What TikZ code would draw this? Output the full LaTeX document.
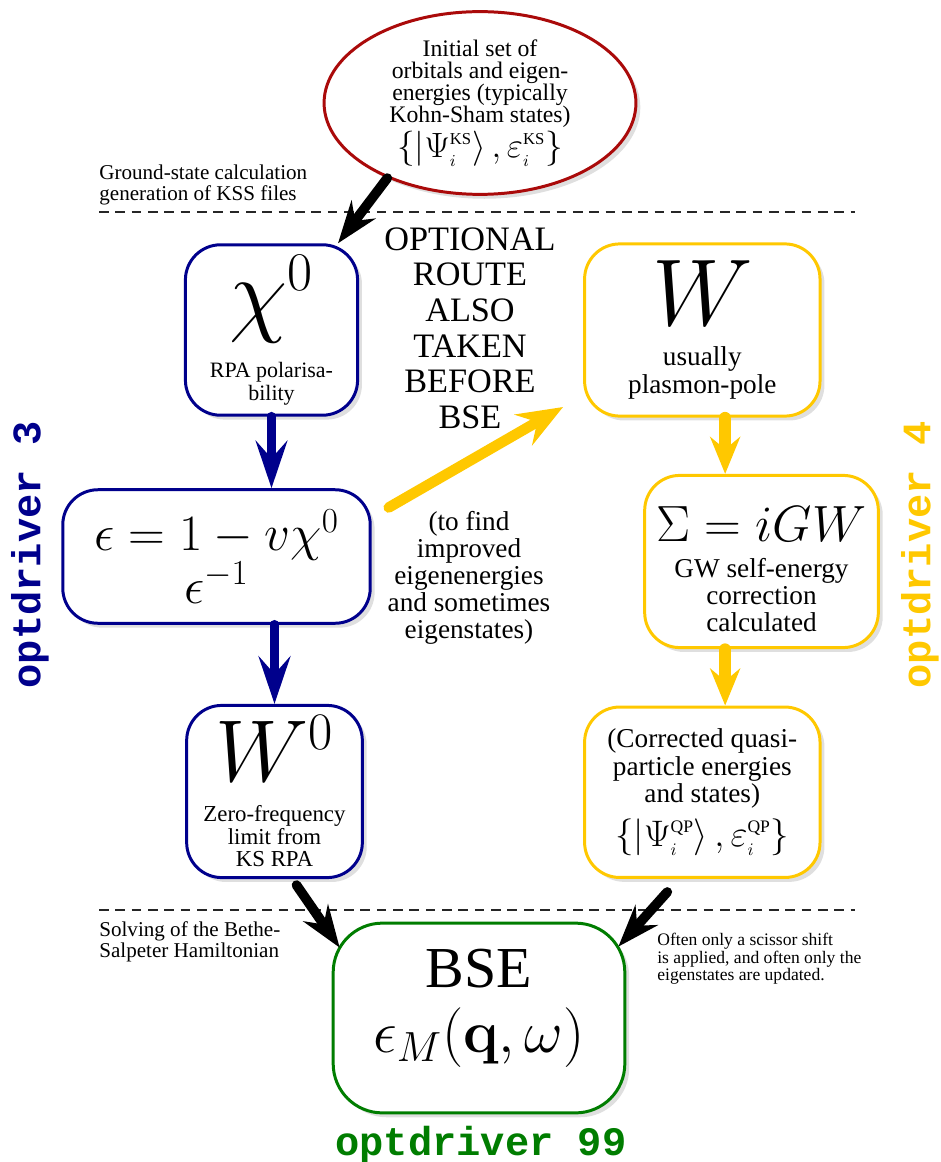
\RequirePackage{fix-cm}
\documentclass[tikz,border=0pt]{standalone}
\usepackage{amsmath}
\usepackage[no-math]{fontspec}
\setmainfont{Liberation Serif}
\newfontfamily\drvfont{Liberation Mono}
\usepackage{xcolor}
\usepackage{tikz}
\usetikzlibrary{arrows.meta,positioning,shapes.geometric,shadows}

\definecolor{rpablue}{RGB}{0,0,140}
\definecolor{gwyellow}{RGB}{255,200,0}
\definecolor{ksred}{RGB}{170,10,10}
\definecolor{bsegreen}{RGB}{0,125,0}

\DeclareMathSizes{54}{54}{31}{22}
\DeclareMathSizes{50}{50}{30}{21}
\DeclareMathSizes{34}{34}{24}{17}
\DeclareMathSizes{29}{29}{20}{15}
\DeclareMathSizes{21}{21}{10}{7}
\DeclareMathSizes{20}{20}{9.5}{7}

\begin{document}
\begin{tikzpicture}[x=0.02cm, y=-0.02cm,
    stepbox/.style={draw, line width=1.7pt, rounded corners=20pt, fill=white, align=center, inner sep=2pt,
      drop shadow={opacity=0.25, shadow xshift=2.5pt, shadow yshift=-2.5pt}},
    rpabox/.style={stepbox, draw=rpablue},
    gwbox/.style={stepbox, draw=gwyellow},
    notetext/.style={inner sep=0pt, align=left},
    fatarrow/.style={draw=black, line width=5.5pt, line cap=round, -{Stealth[length=24pt, width=17pt, inset=8pt]}},
    rpaarrow/.style={draw=rpablue, line width=5.5pt, line cap=round, -{Stealth[length=27pt, width=18pt, inset=10pt]}},
    gwarrow/.style={draw=gwyellow, line width=6.5pt, line cap=round, -{Stealth[length=21pt, width=17pt, inset=7pt]}},
    optarrow/.style={draw=gwyellow, line width=6pt, line cap=round, -{Stealth[length=26pt, width=20pt, inset=9pt]}},
    sepline/.style={line width=1.1pt, dash pattern=on 5.5pt off 3.8pt, black!85},
    drvlabel/.style={rotate=90, font=\drvfont\bfseries\fontsize{23}{23}\selectfont}]
    \useasboundingbox (0,0) rectangle (940,1162);

    % Ground state
    \node[ellipse, draw=ksred, line width=1.7pt, fill=white, align=center, inner sep=0pt,
      minimum width=177.5pt, minimum height=104pt,
      drop shadow={opacity=0.25, shadow xshift=2.5pt, shadow yshift=-2.5pt},
      font=\fontsize{13.5}{12.5}\selectfont] (ks) at (480,103)
      {Initial set of\\ orbitals and eigen-\\ energies (typically\\ Kohn-Sham states)\\[1pt]
       {\fontsize{20}{20}\selectfont$\left\{\left|\Psi_i^{\text{KS}}\right\rangle,\varepsilon_i^{\text{KS}}\right\}$}};
    \node[notetext, anchor=north west, font=\fontsize{12}{11.5}\selectfont] (gs_note) at (99,165)
      {Ground-state calculation\\ generation of KSS files};
    \draw[sepline] (99,212) -- (855,212);

    % RPA column
    \node[rpabox, minimum width=98pt, minimum height=97pt, font=\fontsize{12.5}{13}\selectfont] (chi) at (271.5,330)
      {{\fontsize{54}{54}\selectfont$\chi^0$}\\[10pt] RPA polarisa-\\ bility};
    \node[rpabox, minimum width=175pt, minimum height=76pt, font=\fontsize{29}{30}\selectfont] (eps) at (216.5,556.5)
      {$\epsilon=1-v\chi^0$\\ $\epsilon^{-1}$};
    \node[rpabox, minimum width=100pt, minimum height=98pt, font=\fontsize{13}{12.8}\selectfont] (wnull) at (274.5,791.5)
      {{\fontsize{50}{50}\selectfont$W^0$}\\[10pt] Zero-frequency\\ limit from\\ KS RPA};

    % GW column
    \node[gwbox, minimum width=134pt, minimum height=98pt, font=\fontsize{15.5}{16}\selectfont,
      right=127.5pt of chi] (w)
      {{\fontsize{54}{54}\selectfont$W$}\\[7pt] usually\\ plasmon-pole};
    \node[gwbox, minimum width=133pt, minimum height=98pt, font=\fontsize{15.5}{15.6}\selectfont] (sig) at (761.5,561.5)
      {\rule{0pt}{29pt}{\fontsize{29}{29}\selectfont$\Sigma=iGW$}\\[4.5pt] GW self-energy\\ correction\\ calculated};
    \node[gwbox, minimum width=134pt, minimum height=97pt, font=\fontsize{15.5}{15.5}\selectfont,
      below=163.9pt of w] (qp)
      {(Corrected quasi-\\ particle energies\\ and states)\\[5pt]
       {\fontsize{21}{21}\selectfont$\left\{\left|\Psi_i^{\text{QP}}\right\rangle,\varepsilon_i^{\text{QP}}\right\}$}};

    % Optional route
    \node[notetext, align=center, anchor=north, font=\fontsize{19.5}{20.3}\selectfont] (opt_route) at (470,227)
      {OPTIONAL\\ ROUTE\\ ALSO\\ TAKEN\\ BEFORE\\ BSE};
    \node[notetext, align=center, anchor=north, font=\fontsize{15.5}{15.3}\selectfont] (opt_why) at (469,511)
      {(to find\\ improved\\ eigenenergies\\ and sometimes\\ eigenstates)};

    % BSE
    \draw[sepline] (99,910) -- (855,910);
    \node[stepbox, draw=bsegreen, rounded corners=28pt, minimum width=166pt, minimum height=108pt,
      font=\fontsize{33}{37}\selectfont] (bse) at (479,1018)
      {BSE\\ {\fontsize{34}{34}\selectfont$\epsilon_M(\mathbf{q},\omega)$}\rule[-20pt]{0pt}{1pt}};
    \node[notetext, anchor=north west, font=\fontsize{12}{12}\selectfont] (bse_note) at (99,921)
      {Solving of the Bethe-\\ Salpeter Hamiltonian};
    \node[notetext, anchor=north west, font=\fontsize{10}{10}\selectfont] (qp_note) at (657,933)
      {Often only a scissor shift\\ is applied, and often only the\\ eigenstates are updated.};

    % optdriver labels
    \node[drvlabel, text=rpablue] (drv3) at (30,555) {optdriver 3};
    \node[drvlabel, text=gwyellow] (drv4) at (920,555) {optdriver 4};
    \node[drvlabel, rotate=-90, text=bsegreen] (drv99) at (481,1145) {optdriver 99};

    % Arrows
    \draw[fatarrow] (ks.219) -- ([xshift=-12pt]chi.north east);
    \draw[rpaarrow] (chi.south) -- (chi.south |- eps.north);
    \draw[rpaarrow] (eps.south -| wnull.north) -- (wnull.north);
    \coordinate (wy) at ([xshift=13pt]w.south);
    \coordinate (qy) at ([xshift=13pt]qp.north);
    \draw[gwarrow] (wy) -- (wy |- sig.north);
    \draw[gwarrow] (qy |- sig.south) -- (qy);
    \coordinate (opt_start) at ([shift={(17,-49)}]eps.east);
    \coordinate (opt_end) at ([shift={(-20,77)}]w.west);
    \draw[optarrow] (opt_start) -- (opt_end);
    \draw[fatarrow] ([shift={(22,6)}]wnull.south) -- ([shift={(8,26)}]bse.north west);
    \draw[fatarrow] ([shift={(-35,13)}]qp.south) -- ([shift={(-8,25)}]bse.north east);
\end{tikzpicture}
\end{document}
